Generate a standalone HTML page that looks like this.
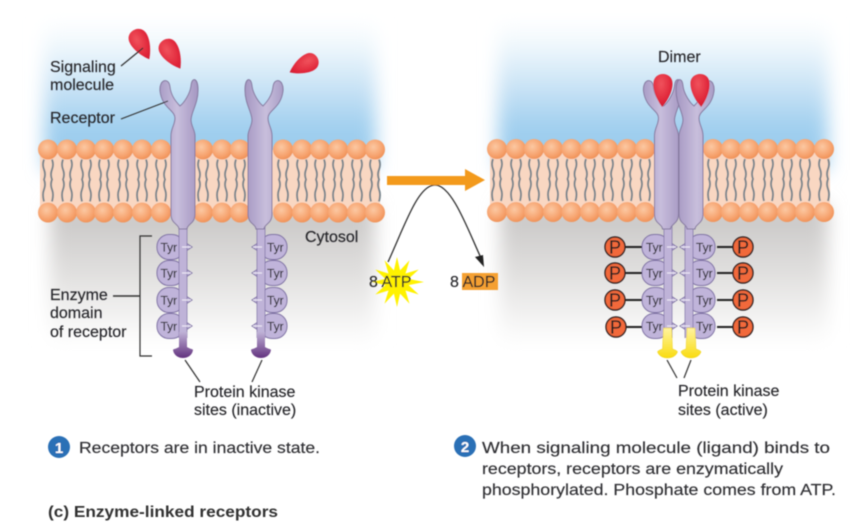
<!DOCTYPE html>
<html><head><meta charset="utf-8"><style>
html,body{margin:0;padding:0;background:#fff}
svg{display:block}
text{font-family:"Liberation Sans",sans-serif;fill:#26262a;stroke:#26262a;stroke-width:.15}
.l{font-size:16px}
.t{font-size:12px;fill:#2c2c30}
.b{font-size:16px;fill:#303034}
.p{font-size:18px;text-anchor:middle;fill:#222}
</style></head><body>
<svg xmlns="http://www.w3.org/2000/svg" width="853" height="528" viewBox="0 0 853 528">
<defs>
<linearGradient id="blue" x1="0" y1="0" x2="0" y2="1"><stop offset="0" stop-color="#fff"/><stop offset=".18" stop-color="#eef7fc"/><stop offset=".42" stop-color="#cde5f6"/><stop offset=".72" stop-color="#a0cfef"/><stop offset="1" stop-color="#96c9ec"/></linearGradient>
<linearGradient id="grey" x1="0" y1="0" x2="0" y2="1"><stop offset="0" stop-color="#c6c4c3"/><stop offset=".55" stop-color="#e4e3e2"/><stop offset="1" stop-color="#fff"/></linearGradient>
<radialGradient id="head" cx=".42" cy=".38" r=".72"><stop offset="0" stop-color="#fbc8a2"/><stop offset=".6" stop-color="#f7a470"/><stop offset="1" stop-color="#ec8a4e"/></radialGradient>
<radialGradient id="red" cx=".4" cy=".3" r=".8"><stop offset="0" stop-color="#f0525c"/><stop offset=".7" stop-color="#df2438"/><stop offset="1" stop-color="#c01a30"/></radialGradient>
<linearGradient id="stem" x1="0" y1="0" x2="1" y2="0"><stop offset="0" stop-color="#a99dc6"/><stop offset=".45" stop-color="#c8bedc"/><stop offset="1" stop-color="#a597c2"/></linearGradient>
<linearGradient id="kin" x1="0" y1="0" x2="0" y2="1"><stop offset="0" stop-color="#bfb2d6"/><stop offset="1" stop-color="#63327f"/></linearGradient>
<linearGradient id="yel" x1="0" y1="0" x2="0" y2="1"><stop offset="0" stop-color="#fff3a0"/><stop offset="1" stop-color="#f9dc10"/></linearGradient>
<filter id="soft" x="-5%" y="-5%" width="110%" height="110%"><feGaussianBlur stdDeviation="0.4"/></filter>
<filter id="edge" x="-10%" y="-20%" width="120%" height="140%"><feGaussianBlur stdDeviation="9"/></filter>
<g id="lip">
<circle cx="0" cy="0" r="10" fill="url(#head)"/>
<circle cx="0" cy="63" r="10" fill="url(#head)"/>
<path d="M-4,10 q-2,5 0,10 t0,10 q2,5 0,10 t0,12 M4,10 q2,5 0,10 t0,10 q-2,5 0,10 t0,12" fill="none" stroke="#78848c" stroke-width="1.9"/>
</g>
<path id="top" d="M-4,229 C-4,224 -12,224 -12,214 L-12,136 C-12,128 -8,125 -8,118 C-8,110 -21,108 -23,91 C-24,79 -14,77 -13,87 C-12,96 -7,102 -3,106 C1,103 7,94 8,86 C9,76 15,78 15,90 C15,104 8,112 8,120 C8,126 12,130 12,136 L12,214 C12,224 4,224 4,229 Z" fill="url(#stem)" stroke="#85799f" stroke-width="1"/>
<g id="dom">
<g fill="#c0b4da" stroke="#7d70a3" stroke-width="1">
<rect x="-26" y="-12.5" width="27" height="25" rx="12" transform="translate(0,247)"/>
<rect x="-26" y="-12.5" width="27" height="25" rx="12" transform="translate(0,273)"/>
<rect x="-26" y="-12.5" width="27" height="25" rx="12" transform="translate(0,300)"/>
<rect x="-26" y="-12.5" width="27" height="25" rx="12" transform="translate(0,326)"/>
<path d="M3,243 l6,4 l-6,4 z M3,269 l6,4 l-6,4 z M3,296 l6,4 l-6,4 z M3,322 l6,4 l-6,4 z"/>
</g>
<rect x="-4" y="226" width="8" height="112" fill="#bfb3d8"/>
<path d="M-4,226 V338 M4,226 V338" stroke="#7d70a3" stroke-width=".7" fill="none"/>
<path d="M-1,247 H8 M-1,273 H8 M-1,300 H8 M-1,326 H8" stroke="#ece7f4" stroke-width="1.2"/>
</g>
<g id="ki"><path d="M-4,332 H4 V347 C7,349 10,349 10,350 C9,356 4,358 0,358 C-4,358 -9,356 -10,350 C-10,349 -7,349 -4,347 Z" fill="url(#kin)"/></g>
<g id="ky"><path d="M-4,328 H4 L5,349 C8,350 10,351 10,352 C8,357 3,358 0,358 C-3,358 -8,357 -10,352 C-10,351 -8,350 -5,349 Z" fill="url(#yel)" stroke="#ecd020" stroke-width=".5"/></g>
<path id="drop" d="M0,24 C-5,18 -10,8 -9.5,0 C-9,-12 9,-12 9.5,0 C10,8 5,18 0,24 Z" fill="url(#red)"/>
</defs>

<g filter="url(#edge)">
<rect x="44" y="20" width="332" height="150" fill="url(#blue)"/>
<rect x="498" y="20" width="330" height="150" fill="url(#blue)"/>
<rect x="50" y="205" width="325" height="140" fill="url(#grey)"/>
<rect x="500" y="205" width="328" height="140" fill="url(#grey)"/>
</g>
<g filter="url(#soft)">
<rect x="40" y="150" width="340" height="62" fill="#f9d7c2"/>
<rect x="490" y="150" width="340" height="62" fill="#f9d7c2"/>

<g>
<use href="#lip" x="48" y="149.500"/><use href="#lip" x="67" y="149.500"/><use href="#lip" x="86" y="149.500"/><use href="#lip" x="104" y="149.500"/><use href="#lip" x="123" y="149.500"/><use href="#lip" x="142" y="149.500"/><use href="#lip" x="161" y="149.500"/><use href="#lip" x="203" y="149.500"/><use href="#lip" x="222" y="149.500"/><use href="#lip" x="240" y="149.500"/><use href="#lip" x="283" y="149.500"/><use href="#lip" x="302" y="149.500"/><use href="#lip" x="320" y="149.500"/><use href="#lip" x="338" y="149.500"/><use href="#lip" x="357" y="149.500"/><use href="#lip" x="375" y="149.500"/>
<use href="#lip" x="497" y="149"/><use href="#lip" x="516" y="149"/><use href="#lip" x="534" y="149"/><use href="#lip" x="553" y="149"/><use href="#lip" x="571.500" y="149"/><use href="#lip" x="590" y="149"/><use href="#lip" x="608" y="149"/><use href="#lip" x="627" y="149"/><use href="#lip" x="645" y="149"/><use href="#lip" x="713" y="149"/><use href="#lip" x="731" y="149"/><use href="#lip" x="749" y="149"/><use href="#lip" x="768" y="149"/><use href="#lip" x="787" y="149"/><use href="#lip" x="805" y="149"/><use href="#lip" x="824" y="149"/>
</g>

<!-- left receptors -->
<use href="#dom" x="183"/><use href="#ki" x="183"/><use href="#top" x="183"/>
<use href="#dom" transform="translate(261,0) scale(-1,1)"/><use href="#ki" x="261"/><use href="#top" transform="translate(260,0) scale(-1,1)"/>
<!-- dimer -->
<use href="#dom" x="668"/><use href="#ky" x="667.500"/>
<use href="#dom" transform="translate(689,0) scale(-1,1)"/><use href="#ky" x="691"/>
<use href="#top" x="666.500"/><use href="#top" transform="translate(691,0) scale(-1,1)"/>

<!-- molecules -->
<use href="#drop" transform="translate(138,38) rotate(-28)"/>
<use href="#drop" transform="translate(168,48) rotate(-31)"/>
<use href="#drop" transform="translate(310,62) rotate(63) scale(.95)"/>
<use href="#drop" transform="translate(663,83) rotate(2)"/>
<use href="#drop" transform="translate(700,83) rotate(-3)"/>

<!-- leaders -->
<g stroke="#333" stroke-width="1.2" fill="none">
<path d="M121,66 L143,48"/>
<path d="M121,119 L168,101"/>
<path d="M152,236 H140 V356 H152"/>
<path d="M113,296 H140" stroke-width="1.5"/>
<path d="M185,360 L200,382"/>
<path d="M262,360 L252,382"/>
<path d="M667,360 L677,378"/>
<path d="M691,360 L684,378"/>
</g>

<!-- P groups -->
<g stroke="#222" stroke-width="2" fill="none">
<path d="M625,247 H642 M625,273 H642 M625,300 H642 M625,327 H642 M717,247 H733 M717,273 H733 M717,300 H733 M717,327 H733"/>
</g>
<g fill="#f2693a" stroke="#2e2422" stroke-width="1.4">
<circle cx="615" cy="247" r="10"/><circle cx="615" cy="273" r="10"/><circle cx="615" cy="300" r="10"/><circle cx="616" cy="327" r="10"/>
<circle cx="743" cy="247" r="10"/><circle cx="743" cy="273" r="10"/><circle cx="743" cy="300" r="10"/><circle cx="743" cy="327" r="10"/>
</g>
<text class="p" x="615" y="253.500">P</text><text class="p" x="615" y="279.500">P</text><text class="p" x="615" y="306.500">P</text><text class="p" x="616" y="333.500">P</text>
<text class="p" x="743" y="253.500">P</text><text class="p" x="743" y="279.500">P</text><text class="p" x="743" y="306.500">P</text><text class="p" x="743" y="333.500">P</text>

<!-- Tyr -->
<text class="t" x="160.500" y="251.500">Tyr</text><text class="t" x="160.500" y="277.500">Tyr</text><text class="t" x="160.500" y="304.500">Tyr</text><text class="t" x="160.500" y="330.500">Tyr</text>
<text class="t" x="267" y="251.500">Tyr</text><text class="t" x="267" y="277.500">Tyr</text><text class="t" x="267" y="304.500">Tyr</text><text class="t" x="267" y="330.500">Tyr</text>
<text class="t" x="646" y="251.500">Tyr</text><text class="t" x="646" y="277.500">Tyr</text><text class="t" x="646" y="304.500">Tyr</text><text class="t" x="646" y="330.500">Tyr</text>
<text class="t" x="696" y="251.500">Tyr</text><text class="t" x="696" y="277.500">Tyr</text><text class="t" x="696" y="304.500">Tyr</text><text class="t" x="696" y="330.500">Tyr</text>

<!-- reaction -->
<path d="M388,262 C405,225 418,185 435,185 C452,185 468,230 481,258" fill="none" stroke="#333" stroke-width="1.3"/>
<path d="M484,267 L475,257 L483,255 Z" fill="#222"/>
<path d="M387,176 H465 V169 L485,180 L465,191 V185 H387 Z" fill="#f39a1e"/>
<polygon fill="#fff200" points="424,282 408.600,278.900 418.700,269.500 405.500,273.500 409.500,260.300 400.100,270.400 397,257 393.900,270.400 384.500,260.300 388.500,273.500 375.300,269.500 385.400,278.900 372,282 385.400,285.100 375.300,294.500 388.500,290.500 384.500,303.700 393.900,293.600 397,307 400.100,293.600 409.500,303.700 405.500,290.500 418.700,294.500 408.600,285.100"/>
<rect x="462" y="273" width="36" height="17" fill="#f5a030"/>
<text class="l" x="369" y="287">8 ATP</text>
<text class="l" x="450" y="287">8 ADP</text>

<!-- labels -->
<text class="l" x="50" y="72">Signaling</text>
<text class="l" x="50" y="90">molecule</text>
<text class="l" x="50" y="123">Receptor</text>
<text class="l" x="50" y="300">Enzyme</text>
<text class="l" x="50" y="318">domain</text>
<text class="l" x="50" y="337">of receptor</text>
<text class="l" x="194" y="397">Protein kinase</text>
<text class="l" x="194" y="415">sites (inactive)</text>
<text class="l" x="305" y="242">Cytosol</text>
<text class="l" x="658" y="62">Dimer</text>
<text class="l" x="678" y="396">Protein kinase</text>
<text class="l" x="678" y="415">sites (active)</text>

<!-- captions -->
<circle cx="59" cy="447" r="11" fill="#2b6fb6"/>
<text x="59" y="453" text-anchor="middle" style="font-size:15px;font-weight:bold;fill:#fff;stroke:none">1</text>
<text class="b" x="79" y="453" textLength="241" lengthAdjust="spacingAndGlyphs">Receptors are in inactive state.</text>
<circle cx="465" cy="446" r="11" fill="#2b6fb6"/>
<text x="465" y="452" text-anchor="middle" style="font-size:15px;font-weight:bold;fill:#fff;stroke:none">2</text>
<text class="b" x="482" y="453" textLength="348" lengthAdjust="spacingAndGlyphs">When signaling molecule (ligand) binds to</text>
<text class="b" x="482" y="474" textLength="301" lengthAdjust="spacingAndGlyphs">receptors, receptors are enzymatically</text>
<text class="b" x="482" y="495" textLength="354" lengthAdjust="spacingAndGlyphs">phosphorylated. Phosphate comes from ATP.</text>
<text x="48" y="517" textLength="230" lengthAdjust="spacingAndGlyphs" style="font-size:16px;font-weight:bold;fill:#333;stroke:none">(c) Enzyme-linked receptors</text>
</g>
</svg>
</body></html>
